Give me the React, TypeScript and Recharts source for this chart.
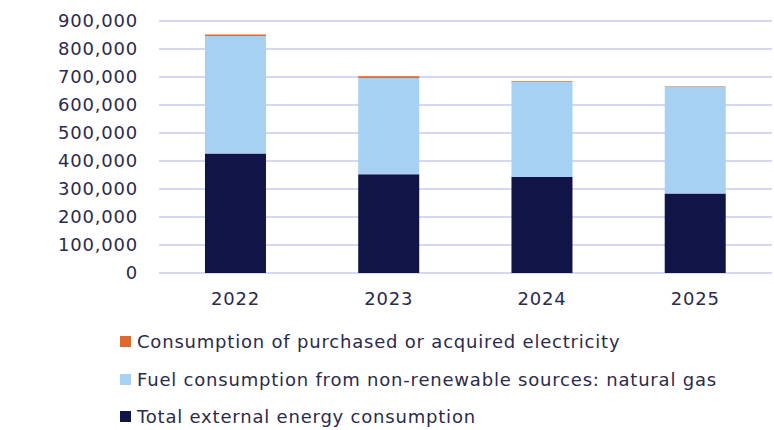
import { BarChart, Bar, XAxis, YAxis, CartesianGrid } from 'recharts';

const years = ['2022', '2023', '2024', '2025'];
const totalExternal = [426400, 352500, 343000, 283600];
const naturalGas = [420000, 344000, 339000, 382000];
const electricity = [5000, 6000, 2600, 1200];
const yTicks = [0, 100000, 200000, 300000, 400000, 500000, 600000, 700000, 800000, 900000];

const FONT = '"DejaVu Sans", sans-serif';
const TEXT = '#2b2b4d';

const series = [
  { key: 'electricity', name: 'Consumption of purchased or acquired electricity', color: '#e0692d' },
  { key: 'gas', name: 'Fuel consumption from non-renewable sources: natural gas', color: '#a6d1f3' },
  { key: 'total', name: 'Total external energy consumption', color: '#111446' },
];

const data = years.map((year, i) => ({
  year,
  total: totalExternal[i],
  gas: naturalGas[i],
  electricity: electricity[i],
}));

const tickStyle = { fill: TEXT, fontSize: 18, fontFamily: FONT, letterSpacing: 0.8 };

function LegendBlock() {
  return (
    <div
      style={{
        position: 'absolute',
        left: 120,
        top: 323,
        fontFamily: FONT,
        color: TEXT,
        fontSize: 18,
        letterSpacing: 0.8,
        whiteSpace: 'nowrap',
      }}
    >
      {series.map((s) => (
        <div key={s.key} style={{ display: 'flex', alignItems: 'center', height: 37.5 }}>
          <span
            style={{
              display: 'inline-block',
              width: 11,
              height: 11,
              background: s.color,
              marginRight: 6,
            }}
          />
          {s.name}
        </div>
      ))}
    </div>
  );
}

export default function App() {
  return (
    <div style={{ position: 'absolute', left: 0, top: 0, width: 774, height: 430, background: '#fff' }}>
      <BarChart
        width={774}
        height={430}
        data={data}
        margin={{ top: 21, right: 2, bottom: 127, left: 0 }}
        barCategoryGap="30%"
      >
        <CartesianGrid vertical={false} stroke="#c9c9f3" strokeWidth={1.4} />
        <XAxis
          dataKey="year"
          axisLine={false}
          tickLine={false}
          tickMargin={13}
          height={30}
          tick={tickStyle}
        />
        <YAxis
          width={159}
          domain={[0, 900000]}
          ticks={yTicks}
          interval={0}
          axisLine={false}
          tickLine={false}
          tickSize={0}
          tickMargin={21}
          tickFormatter={(v: number) => v.toLocaleString('en-US')}
          tick={tickStyle}
        />
        <Bar dataKey="total" stackId="a" fill="#111446" isAnimationActive={false} />
        <Bar dataKey="gas" stackId="a" fill="#a6d1f3" isAnimationActive={false} />
        <Bar dataKey="electricity" stackId="a" fill="#e0692d" isAnimationActive={false} />
      </BarChart>
      <LegendBlock />
    </div>
  );
}
